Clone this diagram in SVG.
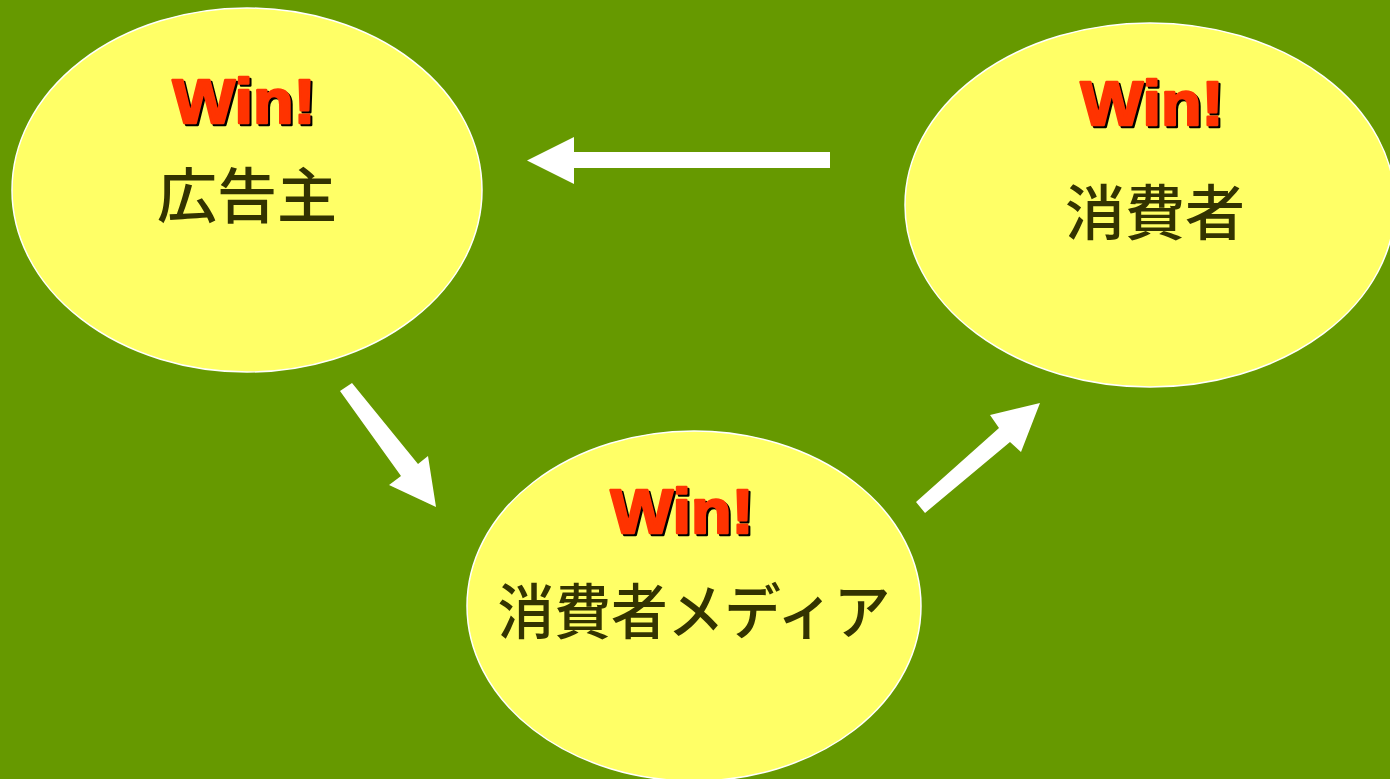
<svg xmlns="http://www.w3.org/2000/svg" width="1390" height="779" viewBox="0 0 1390 779">
<style>
.node{fill:#ffff66;stroke:#ffffff;stroke-width:1.5}
.win{font-family:"Liberation Sans",Arial,sans-serif;font-weight:bold;font-size:63px;text-anchor:middle;stroke-width:2.5;stroke-linejoin:round}
.red{fill:#ff3300;stroke:#ff3300}
.sh{fill:#000000;stroke:#000000}
.jp{font-family:"Noto Sans CJK JP","Noto Sans CJK SC",sans-serif;font-size:60px;font-weight:500;fill:#333300;text-anchor:middle}
.arrow{fill:#ffffff}
</style>
<rect width="1390" height="779" fill="#669900"/>
<g id="node-advertiser">
<ellipse class="node" cx="247" cy="190" rx="235" ry="182"/>
<text class="win sh" x="246" y="125" textLength="143" lengthAdjust="spacingAndGlyphs">Win!</text>
<text class="win red" x="244" y="123" textLength="143" lengthAdjust="spacingAndGlyphs">Win!</text>
<text class="jp" x="247" y="218">広告主</text>
</g>
<g id="node-consumer">
<ellipse class="node" cx="1150" cy="205" rx="245" ry="182"/>
<text class="win sh" x="1154" y="127" textLength="143" lengthAdjust="spacingAndGlyphs">Win!</text>
<text class="win red" x="1152" y="125" textLength="143" lengthAdjust="spacingAndGlyphs">Win!</text>
<text class="jp" x="1155" y="235">消費者</text>
</g>
<g id="node-media">
<ellipse class="node" cx="694" cy="606" rx="227" ry="175"/>
<text class="win sh" x="684" y="535" textLength="143" lengthAdjust="spacingAndGlyphs">Win!</text>
<text class="win red" x="682" y="533" textLength="143" lengthAdjust="spacingAndGlyphs">Win!</text>
<text class="jp" x="694" y="634" textLength="393" lengthAdjust="spacingAndGlyphs">消費者メディア</text>
</g>
<g id="connectors">
<polygon class="arrow" points="830,152 574,152 574,137 527,160.5 574,184 574,168 830,168"/>
<polygon class="arrow" points="340,391 352,383 418,464 428,456 436,507 389,485 401,476"/>
<polygon class="arrow" points="916,502 925,513 1010,442 1021,452 1040,403 990,415 999,428"/>
</g>
</svg>
